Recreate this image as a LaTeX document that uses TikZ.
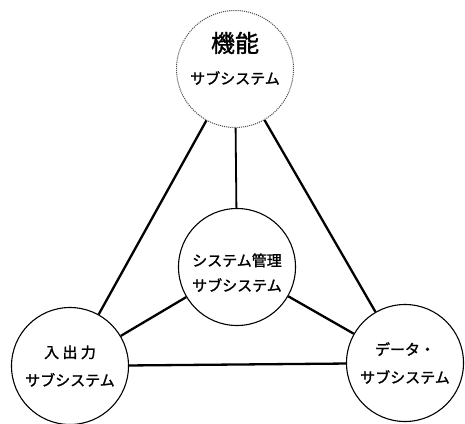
\documentclass[tikz,border=0pt]{standalone}
\usepackage{fontspec}
\newfontfamily\jp[FakeBold=1.5]{Noto Sans CJK JP}
\begin{document}
\begin{tikzpicture}[x=1pt,y=-1pt,
  sub/.style={circle,draw,line width=1.1pt,minimum size=117pt,inner sep=0pt,align=center,font=\jp\fontsize{15}{28}\selectfont},
  link/.style={line width=2.3pt}]
\useasboundingbox (0,0) rectangle (465,423);
\node[sub,draw=black!70,densely dotted,line width=1pt] (top) at (235,69) {{\fontsize{24}{24}\selectfont 機能}\\[4pt]サブシステム\\[-6pt]};
\node[sub,font=\jp\fontsize{15}{25}\selectfont] (mid) at (237,267) {\rule{0pt}{24pt}システム管理\\サブシステム};
\node[sub] (io) at (70,366) {入 出 力\\サブシステム};
\node[sub] (data) at (405,363) {データ・\\サブシステム};
\draw[link] (top) -- (io);
\draw[link] (top) -- (data);
\draw[link,line width=1.8pt] (top) -- (mid);
\draw[link] (mid) -- (io);
\draw[link] (mid) -- (data);
\draw[link] (io) -- (data);
\end{tikzpicture}
\end{document}
